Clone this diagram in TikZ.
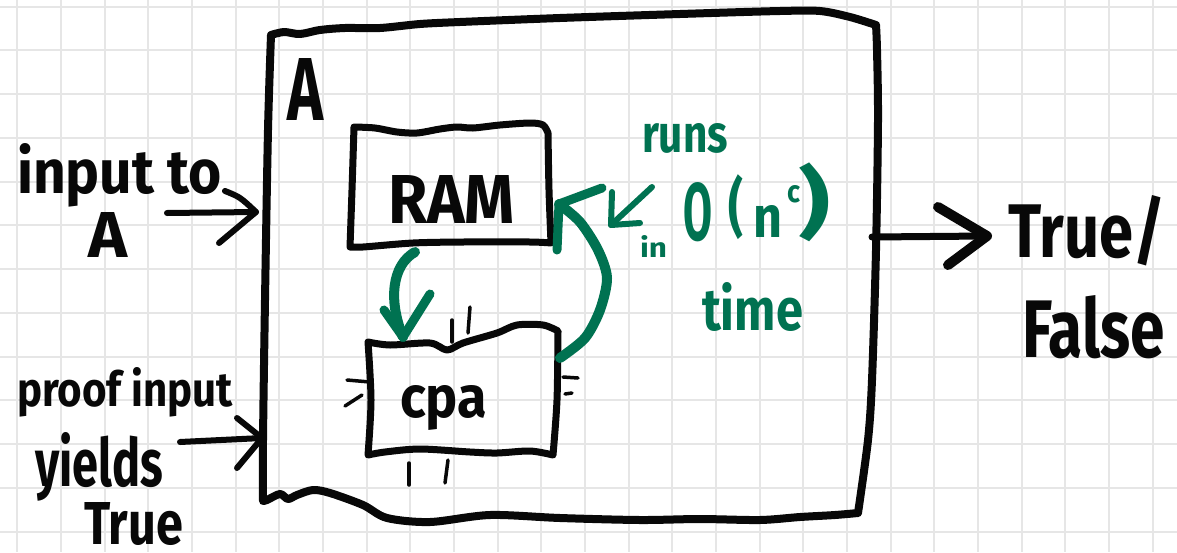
\documentclass[tikz,border=0pt]{standalone}
\usepackage{fontspec}
\setmainfont{Fira Sans}
\usepackage{graphicx}
\definecolor{pen}{RGB}{8,8,8}
\definecolor{ink}{RGB}{0,114,81}
\definecolor{gridline}{RGB}{230,230,230}
% text squeezed to a given width and height (above the baseline)
\newcommand{\hand}[3]{\resizebox{#1pt}{#2pt}{\bfseries #3}}
% same, but the total height (depth included) is given
\newcommand{\handt}[3]{\resizebox*{#1pt}{#2pt}{\bfseries #3}}
\begin{document}
\begin{tikzpicture}[x=1pt,y=-1pt,
  stroke/.style={line width=#1, line cap=round, line join=round, draw=pen},
  gstroke/.style={line width=#1, line cap=round, line join=round, draw=ink},
  lbl/.style={anchor=base west, inner sep=0pt, outer sep=0pt, text=pen},
  glbl/.style={anchor=base west, inner sep=0pt, outer sep=0pt, text=ink},
  tick/.style={stroke=3.5pt},
]
\useasboundingbox (0,0) rectangle (1177,552);
\fill[white] (0,0) rectangle (1177,552);

% squared paper
\foreach \k in {0,...,26}
  \draw[gridline, line width=2pt] ({17.3+43.67*\k},0) -- ({17.3+43.67*\k},552);
\foreach \k in {0,...,12}
  \draw[gridline, line width=2pt] (0,{6.7+43.75*\k}) -- (1177,{6.7+43.75*\k});

% outer machine A
\draw[stroke=8pt]
  plot[smooth] coordinates {(271,35) (284,32) (300,34) (320,30) (345,28) (380,28) (420,24) (460,22) (560,18) (680,14) (780,11) (820,11) (850,17) (876,25)}
  -- plot[smooth] coordinates {(876,25) (877,50) (878,120) (876,250) (872,380) (868,440) (858,513)}
  -- plot[smooth] coordinates {(858,513) (835,515) (800,517) (760,520) (700,519) (640,520) (560,518) (490,515) (430,522) (387,518) (363,505) (330,493) (313,490) (297,495) (288,499) (280,494) (267,500) (263,501)}
  -- plot[smooth] coordinates {(263,501) (263,440) (265,300) (268,130) (271,35)};
\node[lbl] (labelA) at (287,120) {\hand{36}{62}{A}};

% RAM box
\draw[stroke=7pt]
  plot[smooth] coordinates {(354,127) (375,128) (397,132) (417,133) (440,129) (457,127) (473,128) (500,125) (530,123) (543,125) (548,133)}
  -- plot[smooth] coordinates {(548,133) (549,190) (551,243)}
  -- plot[smooth] coordinates {(551,243) (530,242) (463,242) (413,243) (363,247) (350,247)}
  -- plot[smooth] coordinates {(350,247) (352,190) (354,127)};
\node[lbl] (ram) at (388,223) {\hand{127}{48}{RAM}};

% cpa box
\draw[stroke=7pt]
  plot[smooth] coordinates {(368,342) (390,345) (430,343) (447,350) (463,343) (497,333) (517,325) (543,325) (558,331)}
  -- plot[smooth] coordinates {(558,331) (557,400) (553,455)}
  -- plot[smooth] coordinates {(553,455) (530,451) (497,453) (470,452) (420,449) (385,452) (368,455)}
  -- plot[smooth] coordinates {(368,455) (371,400) (368,342)};
\node[lbl] (cpa) at (400,417) {\hand{87}{32}{cpa}};

% little marks around cpa
\draw[tick] (452,320) -- (452,342);
\draw[tick] (470,307) -- (468,333);
\draw[tick] (409,463) -- (409,485);
\draw[tick] (448,460) -- (445,483);
\draw[tick] (347,380) -- (370,382);
\draw[tick] (345,406) -- (362,395);
\draw[tick] (563,377) -- (578,378);
\draw[tick] (565,394) -- (572,393);

% inputs on the left
\node[lbl] (intext) at (17,193) {\hand{205}{50}{input to}};
\node[lbl] (inA) at (88,257) {\hand{39}{45}{A}};
\coordinate (inTail) at (167,213);
\coordinate (inTip) at (256,212);
\draw[stroke=6pt] (inTail) -- (inTip);
\draw[stroke=6pt] (225,191) .. controls (240,197) .. (inTip) -- (219,243);

\node[lbl] (prooftext) at (17,406) {\hand{216}{39}{proof input}};
\node[lbl] (yieldstext) at (35,486) {\hand{128}{54}{yields}};
\node[lbl] (truetext) at (84,544) {\hand{99}{42}{True}};
\coordinate (pfTail) at (180,442);
\coordinate (pfTip) at (262,438);
\draw[stroke=6pt] (pfTail) -- (pfTip);
\draw[stroke=6pt] (237,418) -- (pfTip) -- (237,468);

% output on the right
\coordinate (outTail) at (872,237);
\coordinate (outTip) at (987,236);
\draw[stroke=7pt] (outTail) -- (outTip);
\draw[stroke=10pt] (938,207) -- (outTip) -- (948,265);
\node[lbl] (outTrue) at (1008,257) {\hand{157}{62}{True/}};
\node[lbl] (outFalse) at (1022,357) {\hand{143}{62}{False}};

% green: RAM and cpa calling each other
\coordinate (ramBot) at (415,252);
\coordinate (cpaTop) at (403,337);
\draw[gstroke=10pt] (ramBot) .. controls (392,265) and (388,300) .. (cpaTop);
\draw[gstroke=9pt] (384,310) -- (cpaTop) -- (430,294);

\coordinate (cpaRight) at (560,358);
\coordinate (ramRight) at (559,204);
\draw[gstroke=10pt] plot[smooth] coordinates {(cpaRight) (585,338) (600,310) (607,278) (598,250) (580,222) (ramRight)};
\draw[gstroke=9pt] (557,250) -- (ramRight) -- (602,188);

% green pointer and running-time note
\coordinate (ptrTail) at (652,187);
\coordinate (ptrTip) at (611,225);
\draw[gstroke=6pt] (ptrTail) -- (ptrTip);
\draw[gstroke=6pt] (612,192) -- (ptrTip) -- (640,223);

\node[glbl] (runs) at (642,152) {\hand{86}{29}{runs}};
\node[glbl] (inword) at (640,257) {\hand{27}{22}{in}};
\node[glbl] (bigO) at (683,240) {\hand{29}{58}{O}};
\node[anchor=south west, inner sep=0pt, text=ink] (lpar) at (728,240) {\handt{15}{65}{(}};
\node[glbl] (nvar) at (753,237) {\hand{29}{32}{n}};
\node[glbl] (cexp) at (787,202) {\hand{13}{17}{c}};
\node[anchor=south west, inner sep=0pt, text=ink] (rpar) at (798,242) {\handt{32}{79}{)}};
\node[glbl] (timeword) at (702,330) {\hand{101}{48}{time}};
\end{tikzpicture}
\end{document}
